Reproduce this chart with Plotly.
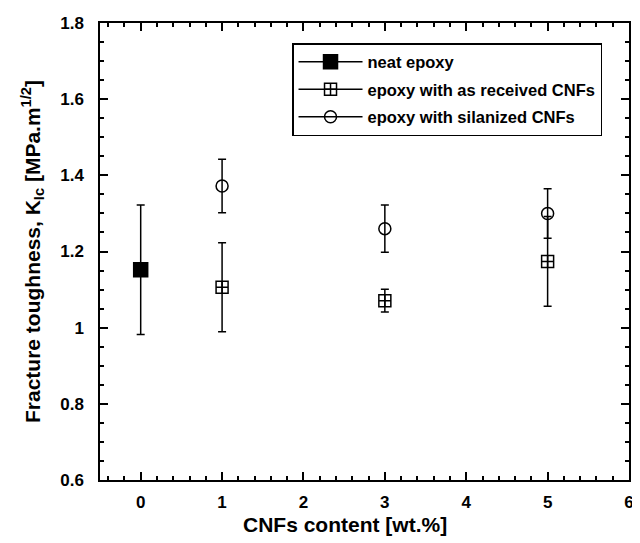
import plotly.graph_objects as go

# ---- data ----
x_neat = [0]
y_neat = [1.152]
err_neat = [0.17]

x_received = [1, 3, 5]
y_received = [1.106, 1.071, 1.174]
err_received = [0.117, 0.03, 0.118]

x_silanized = [1, 3, 5]
y_silanized = [1.372, 1.26, 1.30]
err_silanized = [0.07, 0.062, 0.065]

series_names = ["neat epoxy", "epoxy with as received CNFs", "epoxy with silanized CNFs"]
x_ticks = [0, 1, 2, 3, 4, 5, 6]
x_title = "CNFs content [wt.%]"
y_title = "Fracture toughness, K<sub>Ic</sub> [MPa.m<sup>1/2</sup>]"

FONT = "Liberation Sans, Arial, Helvetica, sans-serif"
BLACK = "black"

fig = go.Figure()

def add_series(x, y, err, symbol, size, name, group):
    fig.add_trace(go.Scatter(
        x=x, y=y, mode="markers",
        marker=dict(symbol=symbol, size=size, color=BLACK,
                    line=dict(color=BLACK, width=1.5)),
        error_y=dict(type="data", array=err, visible=True,
                     color=BLACK, thickness=1.5, width=4),
        showlegend=False, cliponaxis=False,
    ))
    # legend entry (line + marker), no data drawn
    fig.add_trace(go.Scatter(
        x=[None], y=[None], mode="lines+markers", name=name,
        legendgroup=group,
        line=dict(color=BLACK, width=1.5),
        marker=dict(symbol=symbol, size=size, color=BLACK,
                    line=dict(color=BLACK, width=1.5)),
    ))

add_series(x_neat, y_neat, err_neat, "square", 14, series_names[0], "a")
add_series(x_received, y_received, err_received, "square-cross-open", 12, series_names[1], "b")
add_series(x_silanized, y_silanized, err_silanized, "circle-open", 12, series_names[2], "c")

# page has an 8px body margin, so the figure is slightly smaller than the window
fig.update_layout(
    width=632, height=535,
    margin=dict(l=92, r=6, t=14, b=63),
    paper_bgcolor="white", plot_bgcolor="white",
    font=dict(family=FONT, color=BLACK, size=17, weight="bold"),
    showlegend=True,
    legend=dict(
        x=0.363, y=0.956, xanchor="left", yanchor="top",
        bgcolor="white", bordercolor=BLACK, borderwidth=1.5,
        font=dict(family=FONT, size=16.5, weight="bold", color=BLACK),
        tracegroupgap=3, itemwidth=64,
    ),
    annotations=[dict(
        text=x_title, xref="paper", yref="paper", x=0.464, y=-0.098,
        xanchor="center", yanchor="middle", showarrow=False,
        font=dict(family=FONT, size=21, weight="bold", color=BLACK),
    )],
)

fig.update_xaxes(
    range=[-0.5, 6], tickvals=x_ticks,
    showline=True, linecolor=BLACK, linewidth=1.5, mirror="ticks",
    ticks="inside", ticklen=8, tickwidth=1.5, tickcolor=BLACK,
    ticklabelstandoff=6,
    minor=dict(dtick=0.2, tick0=0, ticks="inside", ticklen=4, tickwidth=1.5, tickcolor=BLACK),
    showgrid=False, zeroline=False,
    tickfont=dict(size=17, weight="bold"),
)
fig.update_yaxes(
    range=[0.6, 1.8], dtick=0.2, tick0=0.6,
    showline=True, linecolor=BLACK, linewidth=1.5, mirror="ticks",
    ticks="inside", ticklen=8, tickwidth=1.5, tickcolor=BLACK,
    ticklabelstandoff=11,
    minor=dict(dtick=0.05, tick0=0.6, ticks="inside", ticklen=4, tickwidth=1.5, tickcolor=BLACK),
    showgrid=False, zeroline=False,
    tickfont=dict(size=17, weight="bold"),
    title=dict(text=y_title, font=dict(size=21, weight="bold"), standoff=14),
)

fig.write_html("out.html")
